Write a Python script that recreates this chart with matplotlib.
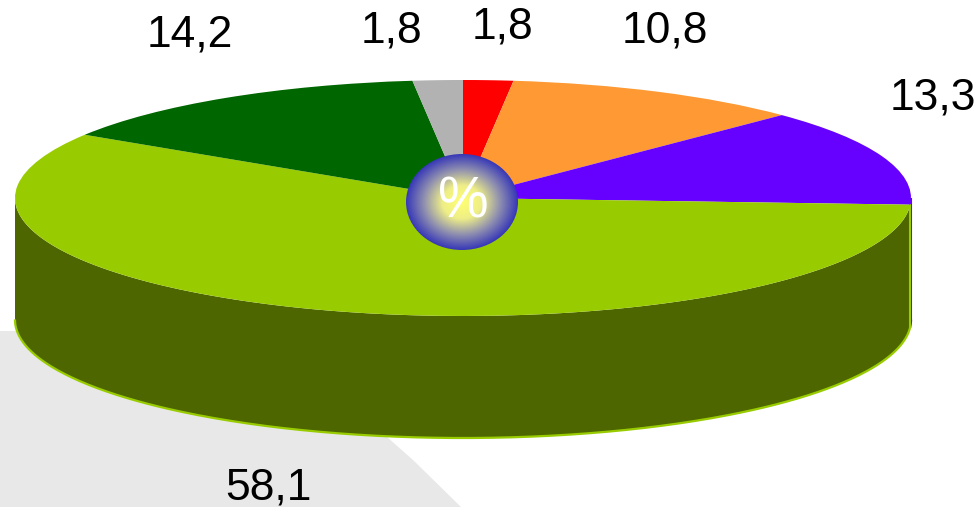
import numpy as np
import matplotlib
matplotlib.use('Agg')
import matplotlib.pyplot as plt
from matplotlib.patches import Ellipse, Polygon
from matplotlib.colors import LinearSegmentedColormap

plt.rcParams['font.family'] = ['Liberation Sans', 'DejaVu Sans']

values = [1.8, 10.8, 13.3, 58.1, 14.2, 1.8]
labels = ['1,8', '10,8', '13,3', '58,1', '14,2', '1,8']
top_colors = ['#ff0000', '#ff9933', '#6600ff', '#99cc00', '#006600', '#b2b2b2']
side_colors = ['#800000', '#804d19', '#6600ff', '#4d6600', '#003300', '#595959']
side_edges = ['#ff0000', '#ff9933', '#6600ff', '#99cc00', '#006600', '#b2b2b2']
label_pos = [(502, 27), (665, 31), (933, 98), (268, 488), (190, 35), (391, 31)]

W, H = 980, 507
cx, cy, rx, ry, depth = 463, 198, 448, 118, 122

fig = plt.figure(figsize=(W / 100, H / 100), dpi=100)

# page axes in pixel coords, y pointing down
bg = fig.add_axes([0, 0, 1, 1], zorder=1)
bg.set_xlim(0, W)
bg.set_ylim(H, 0)
bg.axis('off')

# grey shadow behind the pie
shadow = [(0, 331), (20, 331), (387, 437), (413, 460), (461, 507), (0, 507)]
bg.add_patch(Polygon(shadow, closed=True, fc='#e8e8e8', ec='none'))

# side wall, only the front half of each slice can be seen
start = 0.0
for val, col, edge in zip(values, side_colors, side_edges):
    a0 = 90 - start * 3.6
    a1 = 90 - (start + val) * 3.6
    start += val
    t = np.radians(np.arange(a0, a1, -0.5).tolist() + [a1])
    t = t[np.sin(t) <= 0.001]
    if len(t) < 2:
        continue
    x = cx + rx * np.cos(t)
    y = cy - ry * np.sin(t)
    xs = np.r_[x, x[::-1]]
    ys = np.r_[y, (y + depth)[::-1]]
    bg.add_patch(Polygon(np.c_[xs, ys], closed=True, fc=col, ec='none', zorder=2))
    bg.plot(x, y + depth, color=edge, lw=1.6, zorder=3)
    bg.plot([x[0], x[0]], [y[0], y[0] + depth], color=edge, lw=1.5, zorder=3)

# top face: unit circle stretched to an ellipse by the axes box
top = fig.add_axes([(cx - rx) / W, 1 - (cy + ry) / H, 2 * rx / W, 2 * ry / H], zorder=2)
top.pie(values, colors=top_colors, startangle=90, counterclock=False, radius=1,
        wedgeprops={'linewidth': 0})
top.set_aspect('auto')
top.set_xlim(-1, 1)
top.set_ylim(-1, 1)
top.axis('off')

# front page axes for the hub and labels
fg = fig.add_axes([0, 0, 1, 1], zorder=3)
fg.set_xlim(0, W)
fg.set_ylim(H, 0)
fg.axis('off')
fg.patch.set_alpha(0)

hx, hy, hrx, hry = 462, 202, 56, 48
gx, gy = np.meshgrid(np.linspace(-1, 1, 200), np.linspace(-1, 1, 200))
dist = np.clip(np.hypot(gx, gy), 0, 1)
hub_cmap = LinearSegmentedColormap.from_list(
    'hub', [(0, '#ffff70'), (0.35, '#eeee88'), (0.68, '#9090b0'), (1, '#3838b8')])
img = fg.imshow(dist, cmap=hub_cmap, vmin=0, vmax=1, aspect='auto',
                extent=(hx - hrx, hx + hrx, hy + hry, hy - hry), zorder=4)
hub = Ellipse((hx, hy), 2 * hrx, 2 * hry, fc='none', ec='none', transform=fg.transData)
fg.add_patch(hub)
img.set_clip_path(hub)
fg.set_xlim(0, W)
fg.set_ylim(H, 0)
fg.text(hx + 1, hy, '%', color='white', fontsize=41, ha='center', va='center', zorder=5)

for lab, (lx, ly) in zip(labels, label_pos):
    fg.text(lx, ly, lab, color='black', fontsize=32, ha='center', va='center', zorder=5)

fig.savefig('out.png', dpi=100)
